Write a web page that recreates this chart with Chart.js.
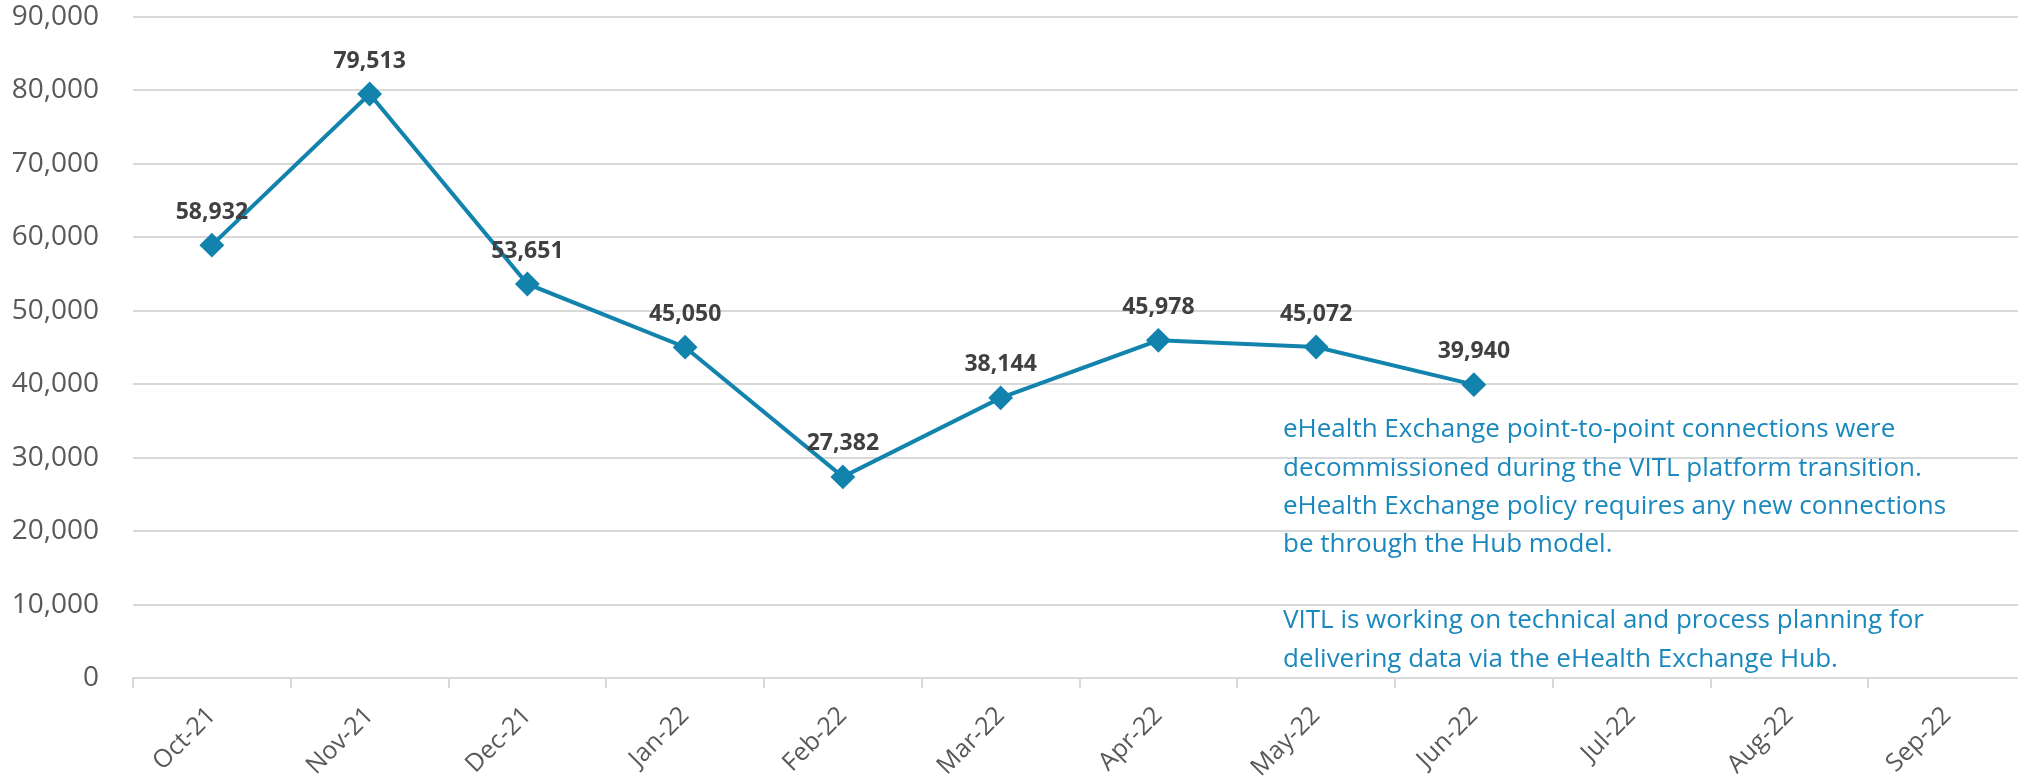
<!DOCTYPE html>
<html>
<head>
<meta charset="utf-8">
<script src="https://cdn.jsdelivr.net/npm/chart.js@4"></script>
<style>
    html, body { margin: 0; padding: 0; background: #fff; overflow: hidden; }
    #wrap { width: 2040px; height: 781px; }
</style>
</head>
<body>
<div id="wrap"><canvas id="chart"></canvas></div>
<script>
const MONTHS = ['Oct-21', 'Nov-21', 'Dec-21', 'Jan-22', 'Feb-22', 'Mar-22',
    'Apr-22', 'May-22', 'Jun-22', 'Jul-22', 'Aug-22', 'Sep-22'];
const CONNECTIONS = [58932, 79513, 53651, 45050, 27382, 38144, 45978, 45072, 39940, null, null, null];
const Y_MAX = 90000;
const Y_STEP = 10000;
const NOTE_LINES = [
    'eHealth Exchange point-to-point connections were',
    'decommissioned during the VITL platform transition.',
    'eHealth Exchange policy requires any new connections',
    'be through the Hub model.',
    '',
    'VITL is working on technical and process planning for',
    'delivering data via the eHealth Exchange Hub.'
];

const LINE_COLOR = '#1283ad';
const GRID_COLOR = '#d9d9d9';
const TICK_COLOR = '#595959';

Chart.defaults.font.family = "'Open Sans', sans-serif";

const fmt = v => v.toLocaleString('en-US');

// value labels above each point
const pointLabels = {
    id: 'pointLabels',
    afterDatasetsDraw(chart) {
        const ctx = chart.ctx;
        const meta = chart.getDatasetMeta(0);
        ctx.save();
        ctx.font = "bold 23px 'Open Sans', sans-serif";
        ctx.fillStyle = '#404040';
        ctx.textAlign = 'center';
        ctx.textBaseline = 'middle';
        meta.data.forEach(function (pt, i) {
            const v = CONNECTIONS[i];
            if (v == null) return;
            ctx.fillText(fmt(v), pt.x, pt.y - 33);
        });
        ctx.restore();
    }
};

// free text note on the right
const note = {
    id: 'note',
    afterDraw(chart) {
        const ctx = chart.ctx;
        ctx.save();
        ctx.font = "26px 'Open Sans', sans-serif";
        ctx.fillStyle = '#1a88bd';
        ctx.textBaseline = 'middle';
        const sx = 652 / ctx.measureText(NOTE_LINES[0]).width;
        ctx.translate(1283, 430);
        ctx.scale(Math.min(sx, 1), 1);
        NOTE_LINES.forEach(function (line, i) {
            ctx.fillText(line, 0, i * 38.2);
        });
        ctx.restore();
    }
};

new Chart(document.getElementById('chart'), {
    type: 'line',
    data: {
        labels: MONTHS,
        datasets: [{
            data: CONNECTIONS,
            borderColor: LINE_COLOR,
            backgroundColor: LINE_COLOR,
            borderWidth: 4,
            pointStyle: 'rectRot',
            pointRadius: 11,
            pointBorderWidth: 2,
            tension: 0,
            spanGaps: false
        }]
    },
    options: {
        responsive: true,
        maintainAspectRatio: false,
        animation: false,
        layout: {
            autoPadding: false,
            padding: { left: 10, right: 14, top: 17, bottom: 0 }
        },
        plugins: {
            legend: { display: false },
            tooltip: { enabled: false }
        },
        scales: {
            x: {
                offset: true,
                afterFit: s => { s.height = 103; s.paddingLeft = 0; s.paddingRight = 0; },
                grid: {
                    offset: true,
                    drawOnChartArea: false,
                    drawTicks: true,
                    tickLength: 10,
                    color: GRID_COLOR,
                    lineWidth: 2
                },
                border: { display: true, color: GRID_COLOR, width: 2 },
                ticks: {
                    autoSkip: false,
                    minRotation: 45,
                    maxRotation: 45,
                    padding: 13,
                    color: TICK_COLOR,
                    font: { size: 25 }
                }
            },
            y: {
                min: 0,
                max: Y_MAX,
                afterFit: s => { s.width = 123; s.paddingTop = 0; s.paddingBottom = 0; },
                grid: { color: GRID_COLOR, lineWidth: 2, drawTicks: false },
                border: { display: false },
                ticks: {
                    stepSize: Y_STEP,
                    padding: 34,
                    color: TICK_COLOR,
                    font: { size: 28 },
                    callback: v => fmt(v)
                }
            }
        }
    },
    plugins: [pointLabels, note]
});
</script>
</body>
</html>
